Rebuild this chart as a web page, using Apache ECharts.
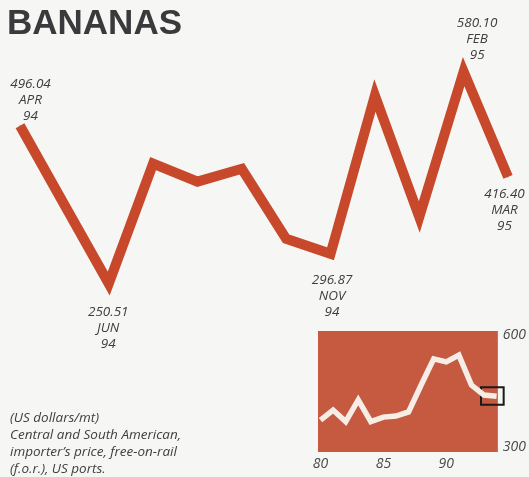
<!DOCTYPE html>
<html>
<head>
<meta charset="utf-8">
<script src="https://cdn.jsdelivr.net/npm/echarts@6/dist/echarts.min.js"></script>
<style>
  html, body { margin: 0; padding: 0; background: #f6f6f4; }
  #chart { width: 529px; height: 477px; }
</style>
</head>
<body>
<div id="chart"></div>
<script>
// Monthly banana prices, April 1994 - March 1995 (US dollars/mt)
const months = ['APR', 'MAY', 'JUN', 'JUL', 'AUG', 'SEP', 'OCT', 'NOV', 'DEC', 'JAN', 'FEB', 'MAR'];
const monthYears = ['94', '94', '94', '94', '94', '94', '94', '94', '94', '95', '95', '95'];
const prices = [496.04, 373, 250.51, 437, 409, 429, 320, 296.87, 543, 354, 580.10, 416.40];

// Months that carry a value label, with the label's offset from the point
const labelOffsets = {
  APR: [11, -25],
  JUN: [0, 45],
  NOV: [2, 43],
  FEB: [14, -32],
  MAR: [-3, 34]
};

// Annual prices for the small history panel
const histYears = [80, 81, 82, 83, 84, 85, 86, 87, 88, 89, 90, 91, 92, 93, 94];
const histPrices = [372, 399, 368, 426, 368, 380, 383, 394, 466, 536, 528, 546, 466, 439, 436];
const histTicksX = [80, 85, 90];
const histTicksY = [300, 600];
// Highlight box around the latest period in the history panel [year, price] corners
const recentBox = [[92.75, 460], [94.55, 413]];

const RED = '#c7482a';
const PANEL = '#c65a40';
const TEXT = '#3e3e3e';
const FONT = '"Open Sans", "DejaVu Sans", sans-serif';

const HX_MIN = 79.8, HX_MAX = 94.1, HY_MIN = 286.6, HY_MAX = 610.7;
const PANEL_W = 180;
// Overlay grid is wider than the panel so the box can overhang its right edge
const OVER_W = 192;
const OVER_X_MAX = HX_MIN + (HX_MAX - HX_MIN) * OVER_W / PANEL_W;

const mainData = prices.map((v, i) => {
  const item = { value: v };
  const off = labelOffsets[months[i]];
  if (off) {
    item.label = {
      show: true,
      position: off,
      align: 'center',
      verticalAlign: 'middle',
      formatter: v.toFixed(2) + '\n' + months[i] + '\n' + monthYears[i]
    };
  }
  return item;
});

const chart = echarts.init(document.getElementById('chart'), null, { renderer: 'canvas' });

chart.setOption({
  backgroundColor: '#f6f6f4',
  animation: false,
  graphic: [
    {
      type: 'text',
      left: 7,
      top: 7,
      style: {
        text: 'BANANAS',
        font: 'bold 35px "Liberation Sans", Arial, sans-serif',
        fill: '#3a3a3c'
      }
    },
    {
      type: 'text',
      left: 10,
      top: 410,
      style: {
        text: '(US dollars/mt)\nCentral and South American,\nimporter\u2019s price, free-on-rail\n(f.o.r.), US ports.',
        font: 'italic 13.5px ' + FONT,
        lineHeight: 16.8,
        fill: TEXT
      }
    }
  ],
  grid: [
    { left: 20, right: 21, top: 46, height: 270 },
    { left: 318, top: 331, width: PANEL_W, height: 121, show: true, backgroundColor: PANEL, borderWidth: 0 },
    { left: 318, top: 331, width: OVER_W, height: 121 }
  ],
  xAxis: [
    {
      gridIndex: 0,
      type: 'category',
      data: months,
      boundaryGap: false,
      show: false
    },
    {
      gridIndex: 1,
      type: 'value',
      min: HX_MIN,
      max: HX_MAX,
      axisLine: { show: false },
      axisTick: { show: false },
      splitLine: { show: false },
      axisLabel: {
        customValues: histTicksX,
        margin: 5,
        color: '#4a4a4a',
        fontSize: 14,
        fontStyle: 'italic',
        fontFamily: FONT
      }
    },
    {
      gridIndex: 2,
      type: 'value',
      min: HX_MIN,
      max: OVER_X_MAX,
      show: false
    }
  ],
  yAxis: [
    {
      gridIndex: 0,
      type: 'value',
      min: 200,
      max: 620,
      show: false
    },
    {
      gridIndex: 1,
      type: 'value',
      position: 'right',
      min: HY_MIN,
      max: HY_MAX,
      axisLine: { show: false },
      axisTick: { show: false },
      splitLine: { show: false },
      axisLabel: {
        customValues: histTicksY,
        margin: 5,
        color: '#4a4a4a',
        fontSize: 14,
        fontStyle: 'italic',
        fontFamily: FONT
      }
    },
    {
      gridIndex: 2,
      type: 'value',
      min: HY_MIN,
      max: HY_MAX,
      show: false
    }
  ],
  series: [
    {
      type: 'line',
      xAxisIndex: 0,
      yAxisIndex: 0,
      data: mainData,
      symbol: 'circle',
      symbolSize: 1,
      showSymbol: true,
      itemStyle: { color: RED },
      lineStyle: { color: RED, width: 10, join: 'miter', miterLimit: 10, cap: 'butt' },
      label: {
        show: false,
        color: TEXT,
        fontSize: 13.5,
        fontStyle: 'italic',
        fontFamily: FONT,
        lineHeight: 16
      },
      emphasis: { disabled: true },
      z: 3
    },
    {
      type: 'line',
      xAxisIndex: 1,
      yAxisIndex: 1,
      data: histYears.map((y, i) => [y, histPrices[i]]),
      showSymbol: false,
      lineStyle: { color: '#f6eee6', width: 5.5, join: 'miter' },
      emphasis: { disabled: true }
    },
    {
      type: 'line',
      xAxisIndex: 2,
      yAxisIndex: 2,
      data: [],
      showSymbol: false,
      silent: true,
      z: 5,
      markArea: {
        silent: true,
        itemStyle: { color: 'rgba(0,0,0,0)', borderColor: '#1a1a1a', borderWidth: 2 },
        data: [[{ coord: recentBox[0] }, { coord: recentBox[1] }]]
      }
    }
  ]
});
</script>
</body>
</html>
